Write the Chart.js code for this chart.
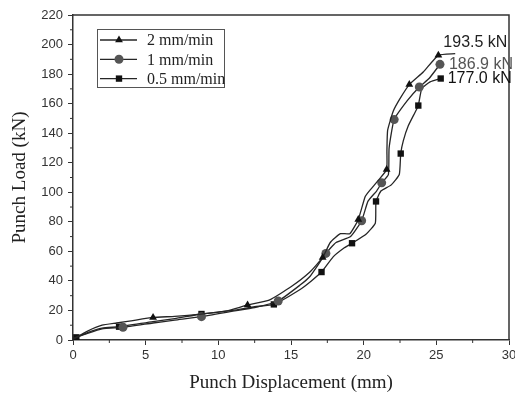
<!DOCTYPE html>
<html>
<head>
<meta charset="utf-8">
<script src="https://cdn.jsdelivr.net/npm/chart.js@4.4.1/dist/chart.umd.min.js"></script>
<style>
  html, body { margin: 0; padding: 0; background: #fff; }
  #wrap { width: 515px; height: 396px; position: relative; }
</style>
</head>
<body>
<div id="wrap"><canvas id="chart" width="515" height="396"></canvas></div>
<script>
// series names
var seriesNames = ['2 mm/min', '1 mm/min', '0.5 mm/min'];
var peakLabels = ['193.5 kN', '186.9 kN', '177.0 kN'];

// 2 mm/min (triangles)
var disp2 = [0, 1, 2, 3, 4, 5.51, 7, 8.8, 10.5, 12.01, 13.5, 15, 16.3, 17.18, 17.7, 18.4, 19.05, 19.63, 20.1, 20.4, 21.0, 21.58, 21.6, 21.65, 22.04, 22.5, 23.14, 24.1, 25.14, 26.3];
var load2 = [0.5, 6, 10, 11.5, 13, 15.3, 16, 17.5, 19.5, 23.7, 27, 36, 46, 55.9, 66, 72, 72, 81.6, 97, 101, 108, 115.4, 128, 142, 155, 163.4, 172.9, 181.4, 192.7, 193.8];
var mark2 = [5, 9, 13, 17, 21, 26, 28];

// 1 mm/min (circles)
var disp1 = [0, 1, 2, 3.44, 5.5, 7, 8.84, 11, 12.5, 14.12, 15.6, 16.3, 17.4, 18.1, 19.1, 19.86, 20.3, 20.9, 21.24, 21.7, 21.75, 22.1, 23.0, 23.83, 24.5, 25.25];
var load1 = [1, 4.5, 7.5, 8.6, 11.5, 13.5, 15.8, 19.5, 22, 26.4, 37, 43, 58.6, 66, 70, 80.7, 94, 101, 106.4, 112, 130, 149.2, 162, 171.3, 177, 186.6];
var mark1 = [3, 6, 9, 12, 15, 18, 21, 23, 25];

// 0.5 mm/min (squares)
var disp05 = [0.23, 1, 2, 3.17, 5.5, 7, 8.84, 11, 12.5, 13.82, 15.6, 16.4, 17.1, 17.9, 18.6, 19.2, 20.2, 20.8, 20.85, 21.2, 21.9, 22.45, 22.55, 22.73, 23.07, 23.53, 23.76, 24.0, 24.57, 25.3];
var load05 = [1.8, 5, 8, 9, 12.5, 14.5, 17.6, 20, 22.5, 24.1, 34, 40, 46, 56.3, 62, 65.5, 72, 79, 93.8, 101, 105, 112, 126.2, 135, 145, 154, 158.7, 170.2, 174.7, 177];
var mark05 = [0, 3, 6, 9, 12, 15, 18, 22, 26, 29];

var xTicks = [0, 5, 10, 15, 20, 25, 30];
var yTicks = [0, 20, 40, 60, 80, 100, 120, 140, 160, 180, 200, 220];

var markerStyles = ['triangle', 'circle', 'rect'];
var markerColors = ['#111', '#555', '#111'];
var lineColor = '#262626';

function toPoints(xs, ys) {
  var pts = [];
  for (var i = 0; i < xs.length; i++) pts.push({x: xs[i], y: ys[i]});
  return pts;
}
function radii(n, marks) {
  var r = [];
  for (var i = 0; i < n; i++) r.push(marks.indexOf(i) >= 0 ? 4.5 : 0);
  return r;
}

var allX = [disp2, disp1, disp05];
var allY = [load2, load1, load05];
var allMarks = [mark2, mark1, mark05];

var datasets = [];
for (var s = 0; s < 3; s++) {
  datasets.push({
    label: seriesNames[s],
    data: toPoints(allX[s], allY[s]),
    showLine: true,
    borderColor: lineColor,
    borderWidth: 1.3,
    tension: 0.15,
    pointStyle: markerStyles[s],
    pointRadius: radii(allX[s].length, allMarks[s]),
    pointBackgroundColor: markerColors[s],
    pointBorderColor: markerColors[s],
    pointBorderWidth: 0
  });
}

// frame, minor ticks, legend box, peak labels
var extras = {
  id: 'extras',
  afterDraw: function(chart) {
    var ctx = chart.ctx;
    var a = chart.chartArea;
    var xs = chart.scales.x, ys = chart.scales.y;
    ctx.save();
    ctx.strokeStyle = '#333';
    ctx.lineWidth = 1.5;
    ctx.beginPath();
    ctx.moveTo(a.left, a.top); ctx.lineTo(a.right, a.top); ctx.lineTo(a.right, a.bottom);
    ctx.stroke();

    // minor ticks
    ctx.lineWidth = 1;
    ctx.beginPath();
    for (var v = 2.5; v < 30; v += 5) {
      var px = xs.getPixelForValue(v);
      ctx.moveTo(px, a.bottom); ctx.lineTo(px, a.bottom + 3);
    }
    for (var w = 10; w < 220; w += 20) {
      var py = ys.getPixelForValue(w);
      ctx.moveTo(a.left, py); ctx.lineTo(a.left - 3, py);
    }
    ctx.stroke();

    // legend
    var lx = 97, ly = 29, lw = 127, lh = 58;
    ctx.strokeStyle = '#555';
    ctx.lineWidth = 1;
    ctx.strokeRect(lx + 0.5, ly + 0.5, lw, lh);
    ctx.font = '16px "Liberation Serif", "Times New Roman", serif';
    ctx.textBaseline = 'middle';
    ctx.textAlign = 'left';
    for (var i = 0; i < 3; i++) {
      var ey = ly + 11 + i * 19.3;
      ctx.strokeStyle = lineColor;
      ctx.lineWidth = 1.3;
      ctx.beginPath();
      ctx.moveTo(lx + 3, ey); ctx.lineTo(lx + 40, ey);
      ctx.stroke();
      ctx.fillStyle = markerColors[i];
      Chart.helpers.drawPoint(ctx, {pointStyle: markerStyles[i], radius: 4.5, borderWidth: 0, rotation: 0}, lx + 22, ey);
      ctx.fillStyle = '#222';
      ctx.fillText(seriesNames[i], lx + 50, ey + 1);
    }

    // peak labels
    ctx.font = '16px "Liberation Sans", Arial, sans-serif';
    var offs = [[5, -13], [9, 0], [7, 0]];
    var cols = ['#222', '#555', '#111'];
    for (var k = 0; k < 3; k++) {
      var m = allMarks[k][allMarks[k].length - 1];
      var tx = xs.getPixelForValue(allX[k][m]) + offs[k][0];
      var ty = ys.getPixelForValue(allY[k][m]) + offs[k][1];
      ctx.fillStyle = cols[k];
      ctx.fillText(peakLabels[k], tx, ty);
    }
    ctx.restore();
  }
};

new Chart(document.getElementById('chart'), {
  type: 'scatter',
  data: { datasets: datasets },
  plugins: [extras],
  options: {
    responsive: false,
    animation: false,
    layout: { padding: { top: 15, right: 6, left: 0, bottom: 0 } },
    plugins: { legend: { display: false }, tooltip: { enabled: false } },
    scales: {
      x: {
        type: 'linear', min: 0, max: 30,
        afterBuildTicks: function(s) { s.ticks = xTicks.map(function(v) { return {value: v}; }); },
        afterFit: function(s) { s.height = 56; s.paddingLeft = 0; s.paddingRight = 0; },
        ticks: { color: '#333', padding: 3, maxRotation: 0, font: { family: '"Liberation Sans", Arial, sans-serif', size: 13 } },
        grid: { drawOnChartArea: false, tickLength: 5, color: '#333' },
        border: { color: '#333', width: 1.5 },
        title: { display: true, text: 'Punch Displacement (mm)', color: '#222', padding: { top: 0, bottom: 2 }, font: { family: '"Liberation Serif", "Times New Roman", serif', size: 19 } }
      },
      y: {
        type: 'linear', min: 0, max: 220,
        afterBuildTicks: function(s) { s.ticks = yTicks.map(function(v) { return {value: v}; }); },
        afterFit: function(s) { s.width = 73; s.paddingTop = 0; s.paddingBottom = 0; },
        ticks: { color: '#333', padding: 5, font: { family: '"Liberation Sans", Arial, sans-serif', size: 13 } },
        grid: { drawOnChartArea: false, tickLength: 5, color: '#333' },
        border: { color: '#333', width: 1.5 },
        title: { display: true, text: 'Punch Load (kN)', color: '#222', padding: { top: 9, bottom: 0 }, font: { family: '"Liberation Serif", "Times New Roman", serif', size: 19 } }
      }
    }
  }
});
</script>
</body>
</html>
